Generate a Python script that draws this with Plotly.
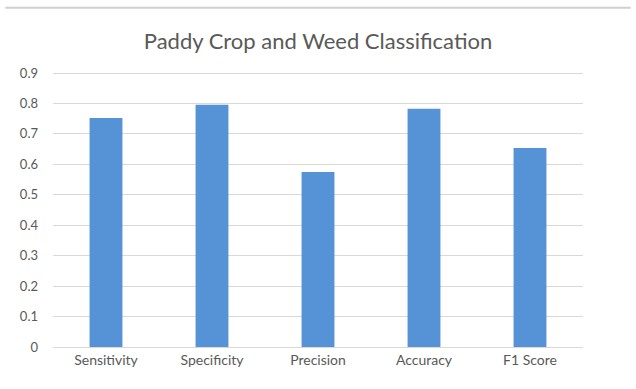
import plotly.graph_objects as go

categories = ["Sensitivity", "Specificity", "Precision", "Accuracy", "F1 Score"]
values = [0.752, 0.796, 0.575, 0.783, 0.654]
y_ticks = [0, 0.1, 0.2, 0.3, 0.4, 0.5, 0.6, 0.7, 0.8, 0.9]
y_ticktext = ["0", "0.1", "0.2", "0.3", "0.4", "0.5", "0.6", "0.7", "0.8", "0.9"]

fig = go.Figure(go.Bar(x=categories, y=values, marker=dict(color="#5592D6", line=dict(width=0))))

fig.update_layout(
    width=636, height=389,
    margin=dict(l=53, r=53, t=70, b=42),
    paper_bgcolor="white", plot_bgcolor="white",
    bargap=0.69,
    showlegend=False,
    font=dict(family="Lato, Open Sans, sans-serif", color="#595959", size=13),
    title=dict(text="Paddy Crop and Weed Classification", x=0.5, xanchor="center",
               y=0.895, yanchor="middle", font=dict(size=22, color="#595959")),
    shapes=[dict(type="line", xref="paper", yref="paper", x0=-0.09, x1=1.09, y0=1.225, y1=1.225,
                 line=dict(color="#d0d0d0", width=2))],
)
fig.update_xaxes(showgrid=False, showline=True, linecolor="#d9d9d9", linewidth=1,
                 ticks="", tickfont=dict(size=14, color="#595959"))
fig.update_yaxes(range=[0, 0.91], tickvals=y_ticks, ticktext=y_ticktext, showgrid=True,
                 gridcolor="#d9d9d9", gridwidth=1, zeroline=False, showline=False,
                 ticklabelstandoff=14, tickfont=dict(size=13, color="#595959"))

fig.write_html("out.html")
